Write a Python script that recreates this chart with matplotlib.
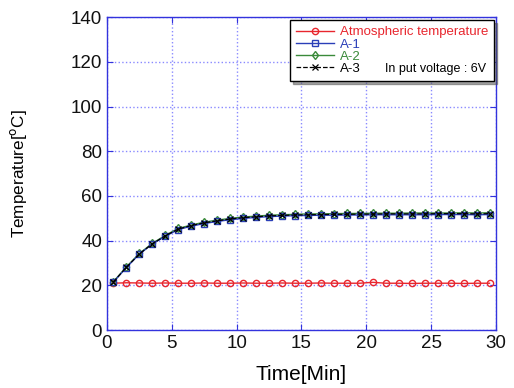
import matplotlib
matplotlib.use("Agg")
import matplotlib.pyplot as plt
import numpy as np

plt.rcParams['font.family'] = ['Liberation Sans', 'DejaVu Sans']

time = np.arange(0.5, 30, 1.0)
atm = [21.0, 21.2, 21.1, 21.0, 21.1, 21.0, 21.0, 21.1, 21.0, 21.0,
       21.1, 21.0, 21.0, 21.1, 21.0, 21.0, 21.1, 21.0, 21.0, 21.0,
       21.4, 21.0, 21.0, 20.9, 21.0, 21.0, 21.0, 20.9, 21.0, 21.0]
a1 = [21.5, 28.0, 34.0, 38.5, 42.0, 45.0, 46.5, 47.7, 48.6, 49.4,
      50.0, 50.4, 50.8, 51.0, 51.2, 51.3, 51.4, 51.4, 51.5, 51.5,
      51.6, 51.6, 51.6, 51.6, 51.6, 51.7, 51.7, 51.7, 51.6, 51.7]
a2 = [21.7, 28.3, 34.3, 38.8, 42.4, 45.5, 47.0, 48.3, 49.2, 50.0,
      50.6, 51.0, 51.4, 51.6, 51.8, 52.0, 52.0, 52.1, 52.2, 52.2,
      52.3, 52.3, 52.3, 52.4, 52.4, 52.4, 52.4, 52.5, 52.4, 52.5]
a3 = [21.6, 28.1, 34.1, 38.6, 42.2, 45.2, 46.8, 48.0, 48.9, 49.7,
      50.3, 50.7, 51.1, 51.3, 51.5, 51.6, 51.7, 51.8, 51.8, 51.9,
      51.9, 52.0, 52.0, 52.0, 52.0, 52.1, 52.1, 52.1, 52.0, 52.1]

fig = plt.figure(figsize=(5.14, 3.88), dpi=100)
ax = fig.add_axes([0.208, 0.149, 0.757, 0.807])

gridc = '#8a8aff'
ms = 4.5
l0, = ax.plot(time, atm, color='#e8262e', lw=1.0, marker='o', ms=ms, mfc='none', mec='#e8262e', mew=1.0,
              label='Atmospheric temperature', zorder=3)
l1, = ax.plot(time, a1, color='#2a3fb8', lw=1.0, marker='s', ms=ms, mfc='none', mec='#2a3fb8', mew=1.0,
              label='A-1', zorder=4)
l2, = ax.plot(time, a2, color='#3a8a3a', lw=1.0, marker='d', ms=ms, mfc='none', mec='#3a8a3a', mew=1.0,
              label='A-2', zorder=3)
l3, = ax.plot(time, a3, color='black', lw=0.9, ls='--', marker='x', ms=ms, mew=0.9,
              label='A-3', zorder=5)

ax.set_xlim(0, 30)
ax.set_ylim(0, 140)
ax.set_xticks(np.arange(0, 31, 5))
ax.set_yticks(np.arange(0, 141, 20))
ax.grid(True, color=gridc, ls=':', lw=1.0)
for s in ax.spines.values():
    s.set_color('#3333dd')
    s.set_linewidth(1.0)
ax.tick_params(axis='both', colors='#3333dd', labelcolor='#111111', labelsize=13.5,
               direction='in', length=4, top=True, right=True)
ax.set_xlabel('Time[Min]', fontsize=15, labelpad=9)
ax.set_ylabel('Temperature[$^{\\rm o}$C]', fontsize=12.3, labelpad=30)

leg = ax.legend(loc='upper right', fontsize=9.5, frameon=True, fancybox=False, shadow=True,
                edgecolor='black', framealpha=1, borderpad=0.45, labelspacing=0.0,
                handlelength=2.9, handletextpad=0.4, bbox_to_anchor=(0.995, 0.99),
                borderaxespad=0.0)
leg.get_frame().set_linewidth(1.0)
for t, c in zip(leg.get_texts(), ['#e8262e', '#2a3fb8', '#3a8a3a', 'black']):
    t.set_color(c)

ax.text(0.975, 0.834, 'In put voltage : 6V', transform=ax.transAxes, ha='right', va='center',
        fontsize=9, zorder=10)

fig.savefig('out.png', dpi=100)
